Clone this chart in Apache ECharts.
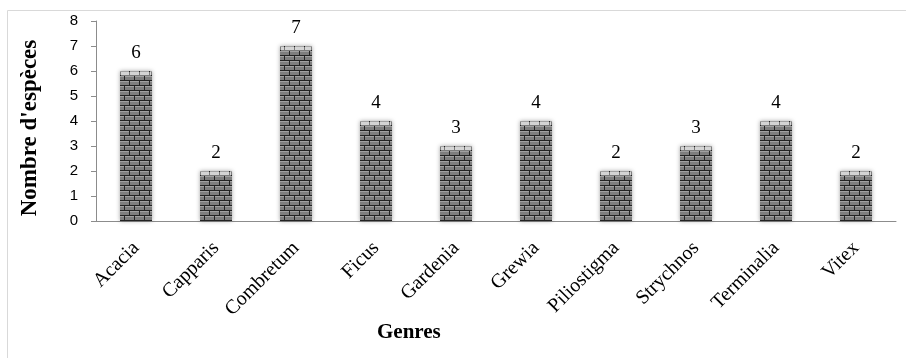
<!DOCTYPE html>
<html>
<head>
<meta charset="utf-8">
<script src="https://cdn.jsdelivr.net/npm/echarts@6/dist/echarts.min.js"></script>
<style>html,body{margin:0;padding:0;background:#fff;}#chart{width:906px;height:358px;}</style>
</head>
<body>
<div id="chart"></div>
<script>
const genres = ['Acacia', 'Capparis', 'Combretum', 'Ficus', 'Gardenia', 'Grewia', 'Piliostigma', 'Strychnos', 'Terminalia', 'Vitex'];
const especes = [6, 2, 7, 4, 3, 4, 2, 3, 4, 2];
const yTicks = [0, 1, 2, 3, 4, 5, 6, 7, 8];
const xTitle = 'Genres';
const yTitle = "Nombre d'espèces";

// brick texture for the bars
function brickPattern(mortar, brick, edge) {
  const c = document.createElement('canvas');
  c.width = 10; c.height = 10;
  const g = c.getContext('2d');
  g.fillStyle = mortar;
  g.fillRect(0, 0, 10, 10);
  g.fillStyle = brick;
  g.fillRect(0, 1, 9, 4);
  g.fillRect(0, 6, 4, 4);
  g.fillRect(5, 6, 5, 4);
  g.fillStyle = edge;
  g.fillRect(0, 1, 9, 1);
  g.fillRect(0, 6, 4, 1);
  g.fillRect(5, 6, 5, 1);
  return c;
}
const brickDark = brickPattern('#222222', '#7e7e7e', '#a0a0a0');
const brickLight = brickPattern('#7a7a7a', '#d4d4d4', '#e6e6e6');

const serif = 'Liberation Serif';
const chart = echarts.init(document.getElementById('chart'), null, { renderer: 'canvas' });
chart.setOption({
  animation: false,
  graphic: [{
    type: 'rect',
    shape: { x: 7.5, y: 10.5, width: 910, height: 360 },
    style: { fill: 'none', stroke: '#d9d9d9', lineWidth: 1 },
    silent: true
  }, {
    type: 'text',
    left: 377, top: 322,
    style: { text: xTitle, font: 'bold 21px "Liberation Serif"', fill: '#000' },
    silent: true
  }, {
    type: 'text',
    x: 30, y: 128,
    rotation: Math.PI / 2,
    style: { text: yTitle, font: 'bold 23px "Liberation Serif"', fill: '#000', align: 'center', verticalAlign: 'middle' },
    silent: true
  }],
  grid: { left: 96, right: 10, top: 21, bottom: 137 },
  xAxis: {
    type: 'category',
    data: genres,
    axisLine: { lineStyle: { color: '#8c8c8c' } },
    axisTick: { length: 5, lineStyle: { color: '#8c8c8c' } },
    axisLabel: { rotate: 45, margin: 24, fontFamily: serif, fontSize: 20, color: '#000' }
  },
  yAxis: {
    type: 'value',
    min: yTicks[0],
    max: yTicks[yTicks.length - 1],
    interval: 1,
    axisLine: { show: true, lineStyle: { color: '#8c8c8c' } },
    axisTick: { show: true, length: 5, lineStyle: { color: '#8c8c8c' } },
    splitLine: { show: false },
    axisLabel: { margin: 18, fontFamily: 'Liberation Sans', fontSize: 15, color: '#000' }
  },
  series: [{
    type: 'bar',
    data: especes,
    barWidth: 32,
    itemStyle: {
      color: { image: brickDark, repeat: 'repeat' },
      shadowBlur: 4,
      shadowColor: 'rgba(0,0,0,0.35)'
    },
    label: {
      show: true,
      position: 'top',
      distance: 8,
      fontFamily: serif,
      fontSize: 19,
      color: '#000'
    }
  }, {
    // lighter cap row on top of each bar
    type: 'custom',
    data: especes.map((v, i) => [i, v]),
    silent: true,
    z: 3,
    renderItem: function (params, api) {
      const top = api.coord([api.value(0), api.value(1)]);
      return {
        type: 'rect',
        shape: { x: top[0] - 15, y: top[1] + 1, width: 30, height: 4 },
        style: { fill: { image: brickLight, repeat: 'repeat' } }
      };
    }
  }]
});
</script>
</body>
</html>
